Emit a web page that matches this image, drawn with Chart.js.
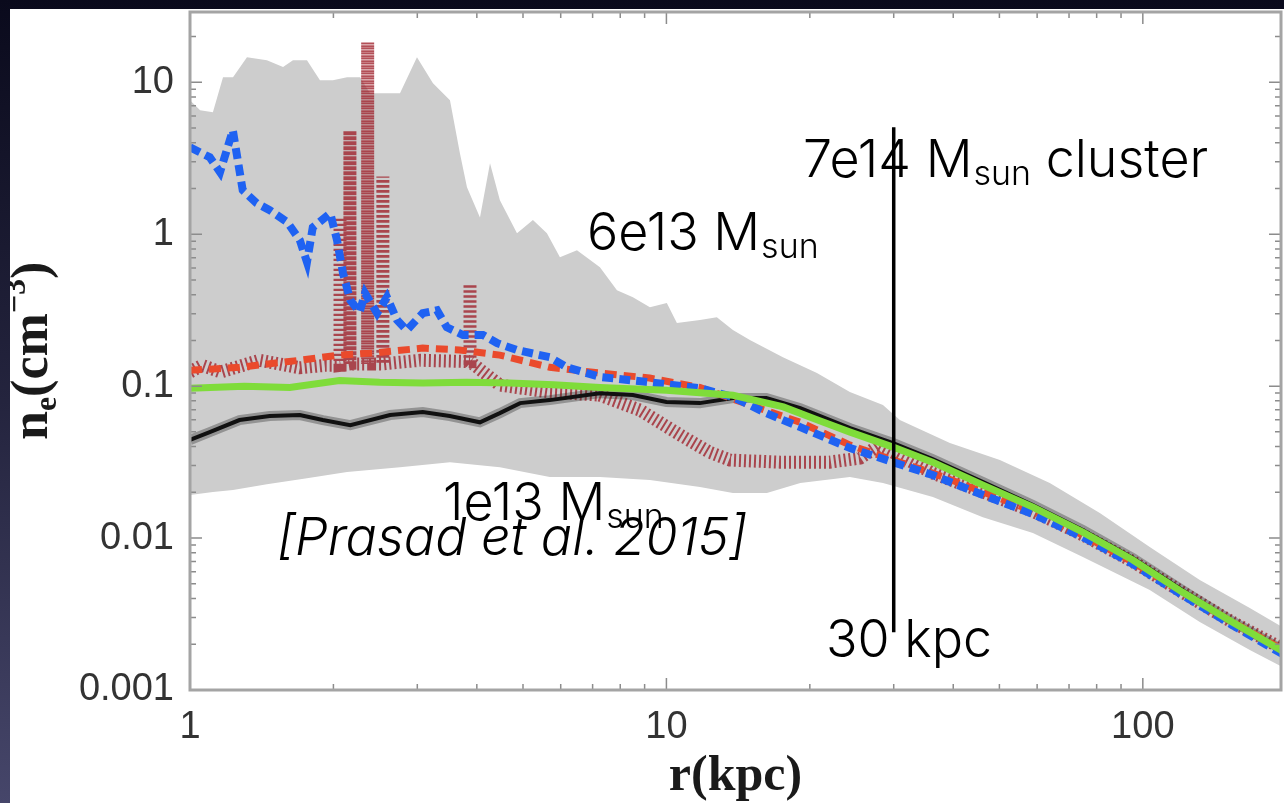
<!DOCTYPE html>
<html>
<head>
<meta charset="utf-8">
<script src="https://cdn.jsdelivr.net/npm/chart.js@4.4.0/dist/chart.umd.min.js"></script>
<style>
    html, body { margin: 0; padding: 0; }
    body {
        width: 1284px;
        height: 803px;
        overflow: hidden;
        background: linear-gradient(to bottom, #0a0a1c 0%, #24243e 50%, #46466a 100%);
    }
    #panel {
        position: absolute;
        left: 10px;
        top: 9px;
        width: 1274px;
        height: 794px;
        background: #ffffff;
    }
</style>
</head>
<body>
<div id="panel"><canvas id="profile-chart"></canvas></div>
<script>
// Axis ticks (log scales)
const xTickVals = [1, 10, 100];
const xTickLabels = ['1', '10', '100'];
const yTickVals = [0.001, 0.01, 0.1, 1, 10];
const yTickLabels = ['0.001', '0.01', '0.1', '1', '10'];
const minorSteps = [2, 3, 4, 5, 6, 7, 8, 9];

// Scatter envelope of all runs (grey band)
const bandHiR = [1.000, 1.05, 1.117, 1.173, 1.231, 1.317, 1.450, 1.568, 1.645, 1.760, 1.874, 1.995, 2.136, 2.275, 2.387,
    2.566, 2.759, 2.995, 3.236, 3.513, 3.686, 3.814, 4.061, 4.263, 4.472, 4.857, 5.246, 5.613, 5.977, 6.490,
    7.252, 7.874, 8.505, 9.234, 10.02, 10.52, 11.76, 12.76, 13.79, 14.97, 17.56, 20.70, 24.27, 28.48, 30.90,
    39.36, 50.11, 63.78, 81.22, 103.4, 131.7, 167.7, 197.7];
const bandHi = [7.62, 6.54, 6.35, 10.8, 10.8, 14.6, 13.96, 12.6, 13.96, 13.96, 10.3, 10.3, 10.8, 10.8, 8.47,
    8.47, 8.47, 14.6, 9.85, 7.62, 3.41, 2.04, 1.29, 2.93, 1.67, 1.016, 1.24, 1.016, 0.706, 0.785,
    0.607, 0.428, 0.385, 0.331, 0.352, 0.260, 0.272, 0.284, 0.234, 0.201, 0.155, 0.122, 0.0914, 0.075, 0.0598,
    0.0422, 0.0326, 0.0230, 0.0146, 0.00873, 0.0053, 0.00346, 0.00256];
const bandLoR = [1.00, 1.117, 1.231, 1.450, 1.760, 2.136, 2.759, 3.513, 4.472, 5.69, 7.25, 9.23, 11.76, 13.79, 16.25,
    19.1, 24.27, 28.48, 36.25, 46.15, 58.78, 74.83, 103.4, 131.7, 167.7, 197.7];
const bandLo = [0.0192, 0.0201, 0.0207, 0.0226, 0.0248, 0.0272, 0.0293, 0.0316, 0.0293, 0.0252, 0.0252, 0.0241, 0.0217, 0.0198, 0.0198,
    0.0230, 0.0252, 0.0230, 0.0186, 0.0137, 0.0108, 0.0075, 0.00455, 0.0028, 0.00183, 0.0014];

// Individual runs
const greenR = [1.00, 1.30, 1.62, 2.06, 2.50, 3.08, 3.80, 4.69, 5.80, 7.25, 10.0, 13.8, 17.6, 20.7, 24.3,
    29.9, 36.2, 46.2, 58.8, 74.8, 95.3, 121, 154, 198];
const greenN = [0.097, 0.100, 0.098, 0.109, 0.106, 0.105, 0.106, 0.105, 0.102, 0.098, 0.094, 0.087, 0.073, 0.060, 0.0498,
    0.0397, 0.0316, 0.0223, 0.0160, 0.01095, 0.00717, 0.00441, 0.0028, 0.00178];

const blueR = [1.00, 1.10, 1.156, 1.23, 1.29, 1.38, 1.47, 1.60, 1.70, 1.76, 1.81, 1.97, 2.035, 2.095, 2.17,
    2.27, 2.33, 2.47, 2.59, 2.72, 2.85, 3.08, 3.30, 3.46, 3.74, 4.12, 4.41, 4.85, 5.69, 6.18,
    7.25, 9.22, 11.75, 13.8, 16.2, 19.1, 24.3, 29.9, 36.2, 46.2, 58.8, 74.8, 95.3, 121, 154, 198];
const blueN = [3.73, 3.21, 2.56, 4.83, 1.95, 1.60, 1.44, 1.20, 0.914, 0.655, 1.11, 1.37, 0.914, 0.553, 0.368,
    0.307, 0.409, 0.302, 0.385, 0.272, 0.233, 0.302, 0.316, 0.244, 0.217, 0.217, 0.192, 0.173, 0.155, 0.133,
    0.115, 0.106, 0.097, 0.0847, 0.0664, 0.0537, 0.0391, 0.0316, 0.0260, 0.0192, 0.0144, 0.01015, 0.00675, 0.00422, 0.00268, 0.0017];

const redR = [1.00, 1.27, 1.70, 2.06, 2.42, 3.08, 3.68, 4.47, 5.69, 7.25, 9.22, 11.75, 15.0, 19.1, 24.3,
    29.9, 36.2, 46.2, 58.8, 74.8, 95.3, 121, 154, 198];
const redN = [0.127, 0.133, 0.148, 0.160, 0.165, 0.178, 0.173, 0.160, 0.133, 0.122, 0.113, 0.098, 0.075, 0.0578, 0.0409,
    0.0326, 0.0268, 0.0201, 0.01505, 0.01046, 0.00695, 0.00435, 0.0028, 0.00183];

const blackR = [1.00, 1.10, 1.27, 1.47, 1.70, 1.90, 2.17, 2.63, 3.08, 3.51, 4.06, 4.47, 4.93, 5.69, 7.25,
    8.50, 10.0, 11.75, 13.8, 16.2, 19.1, 24.3, 29.9, 36.2, 46.2, 58.8, 74.8, 95.3, 121, 154, 198];
const blackN = [0.0442, 0.0498, 0.0598, 0.0635, 0.0645, 0.0598, 0.0553, 0.0645, 0.0675, 0.0635, 0.0578, 0.0664, 0.0773, 0.0809, 0.0899,
    0.0873, 0.0786, 0.0773, 0.0834, 0.0834, 0.0716, 0.0529, 0.0422, 0.0331, 0.0234, 0.0165, 0.0113, 0.00739, 0.00455, 0.00284, 0.00181];

// Dark red run, spikes are drawn as vertical excursions
const darkR = [1.00, 1.06, 1.16, 1.40, 1.70, 1.92, 2.065, 2.065, 2.065, 2.166, 2.166, 2.166, 2.36, 2.36, 2.36,
    2.54, 2.54, 2.54, 3.04, 3.87, 3.87, 3.87, 4.47, 5.69, 7.25, 8.80, 10.7, 12.3, 13.6, 17.3,
    22.0, 25.5, 28.0, 36.2, 46.2, 58.8, 74.8, 95.3, 121, 154, 198];
const darkN = [0.124, 0.137, 0.124, 0.148, 0.132, 0.137, 0.137, 1.29, 0.137, 0.14, 4.8, 0.14, 0.14, 18.3, 0.14,
    0.14, 2.4, 0.14, 0.148, 0.145, 0.47, 0.145, 0.1016, 0.0914, 0.0873, 0.0695, 0.0476, 0.0368, 0.0326, 0.0316,
    0.0316, 0.0336, 0.0409, 0.0268, 0.0201, 0.0150, 0.0105, 0.0070, 0.0044, 0.0028, 0.00185];

// 30 kpc marker
const markerR = [30, 30];
const markerN = [5.06, 0.0024];

const X_MAX = 195;
const Y_MAX = 29;

const toPoints = (xs, ys) => xs.map((x, i) => ({ x, y: ys[i] }));

const TEXT_FONT = '"Inter", "Liberation Sans", sans-serif';

/**
 * Draw "<prefix> M_sun<suffix>" with a subscript
 */
function drawMassLabel(ctx, x, y, prefix, suffix) {
    ctx.font = `300 52px ${TEXT_FONT}`;
    ctx.fillText(prefix + 'M', x, y);
    x += ctx.measureText(prefix + 'M').width + 1;
    ctx.font = `300 34px ${TEXT_FONT}`;
    ctx.fillText('sun', x, y + 8);
    x += ctx.measureText('sun').width;
    if (suffix) {
        ctx.font = `300 52px ${TEXT_FONT}`;
        ctx.fillText(suffix, x, y);
    }
}

const framePlugin = {
    id: 'frame',
    afterDatasetsDraw(chart) {
        const { ctx, chartArea: a, scales } = chart;
        ctx.save();
        ctx.strokeStyle = '#8c8c8c';
        ctx.lineWidth = 1.5;

        // x ticks (bottom and top, inward)
        xTickVals.forEach(dec => {
            [1].concat(minorSteps).forEach(m => {
                const v = dec * m;
                if (v > X_MAX) return;
                const px = scales.x.getPixelForValue(v);
                const len = m === 1 ? 12 : 6;
                ctx.beginPath();
                ctx.moveTo(px, a.bottom); ctx.lineTo(px, a.bottom - len);
                ctx.moveTo(px, a.top); ctx.lineTo(px, a.top + len);
                ctx.stroke();
            });
        });

        // y ticks (left and right, inward)
        yTickVals.forEach(dec => {
            [1].concat(minorSteps).forEach(m => {
                const v = dec * m;
                if (v > Y_MAX) return;
                const py = scales.y.getPixelForValue(v);
                const len = m === 1 ? 12 : 6;
                ctx.beginPath();
                ctx.moveTo(a.left, py); ctx.lineTo(a.left + len, py);
                ctx.moveTo(a.right, py); ctx.lineTo(a.right - len, py);
                ctx.stroke();
            });
        });

        ctx.strokeStyle = '#a4a4a4';
        ctx.lineWidth = 3;
        ctx.strokeRect(a.left, a.top, a.right - a.left, a.bottom - a.top);
        ctx.restore();
    },
    afterDraw(chart) {
        const { ctx, chartArea: a } = chart;
        ctx.save();
        ctx.fillStyle = '#000';
        ctx.textBaseline = 'alphabetic';
        ctx.textAlign = 'left';

        // Slide annotations
        drawMassLabel(ctx, 793, 168, '7e14 ', ' cluster');
        drawMassLabel(ctx, 577, 241, '6e13 ', '');
        drawMassLabel(ctx, 433, 511, '1e13 ', '');

        ctx.font = `italic 300 52px ${TEXT_FONT}`;
        ctx.fillText('[Prasad et al. 2015]', 267, 546);

        ctx.font = `300 52px ${TEXT_FONT}`;
        ctx.fillText('30 kpc', 816, 648);

        // Axis titles
        ctx.fillStyle = '#1a1a1a';
        ctx.font = 'bold 50px "Liberation Serif"';
        ctx.textAlign = 'center';
        ctx.fillText('r(kpc)', (a.left + a.right) / 2, 781);

        ctx.textAlign = 'left';
        ctx.translate(37, 431);
        ctx.rotate(-Math.PI / 2);
        let x = 0;
        ctx.font = 'bold 52px "Liberation Serif"';
        ctx.fillText('n', x, 0);
        x += ctx.measureText('n').width;
        ctx.font = 'bold 32px "Liberation Serif"';
        ctx.fillText('e', x, 9);
        x += ctx.measureText('e').width;
        ctx.font = 'bold 52px "Liberation Serif"';
        ctx.fillText('(cm', x, 0);
        x += ctx.measureText('(cm').width;
        ctx.font = 'bold 32px "Liberation Serif"';
        ctx.fillText('\u22123', x, -22);
        x += ctx.measureText('\u22123').width;
        ctx.font = 'bold 52px "Liberation Serif"';
        ctx.fillText(')', x, 0);
        ctx.restore();
    }
};

const lineStyle = { pointRadius: 0, fill: false, tension: 0 };

new Chart(document.getElementById('profile-chart'), {
    type: 'line',
    data: {
        datasets: [
            { ...lineStyle, label: '30 kpc', data: toPoints(markerR, markerN), borderColor: '#000', borderWidth: 3.5 },
            { ...lineStyle, label: 'green', data: toPoints(greenR, greenN), borderColor: '#7fdc3a', borderWidth: 7 },
            { ...lineStyle, label: 'blue', data: toPoints(blueR, blueN), borderColor: '#1f62f2', borderWidth: 8, borderDash: [11, 6] },
            { ...lineStyle, label: 'red', data: toPoints(redR, redN), borderColor: '#ea4a2c', borderWidth: 7, borderDash: [12, 7] },
            { ...lineStyle, label: 'black', data: toPoints(blackR, blackN), borderColor: '#111', borderWidth: 4 },
            { ...lineStyle, label: 'black scatter', data: toPoints(blackR, blackN), borderColor: 'rgba(40,40,40,0.35)', borderWidth: 10 },
            { ...lineStyle, label: 'dark red', data: toPoints(darkR, darkN), borderColor: 'rgba(160,35,45,0.8)', borderWidth: 13, borderDash: [2, 3] },
            { ...lineStyle, label: 'band max', data: toPoints(bandHiR, bandHi), borderWidth: 0, borderColor: '#cdcdcd', fill: '+1', backgroundColor: '#cdcdcd' },
            { ...lineStyle, label: 'band min', data: toPoints(bandLoR, bandLo), borderWidth: 0, borderColor: '#cdcdcd' }
        ]
    },
    options: {
        responsive: true,
        maintainAspectRatio: false,
        animation: false,
        devicePixelRatio: 1,
        layout: { padding: { top: 3, right: 3, left: 0, bottom: 0 } },
        plugins: {
            legend: { display: false },
            tooltip: { enabled: false }
        },
        scales: {
            x: {
                type: 'logarithmic',
                min: 1,
                max: X_MAX,
                afterBuildTicks: s => { s.ticks = xTickVals.map(v => ({ value: v })); },
                afterFit: s => {
                    s.height = 113;
                    s.paddingLeft = 0;
                    s.paddingRight = 0;
                },
                grid: { display: false, drawTicks: false },
                border: { display: false },
                ticks: {
                    autoSkip: false,
                    maxRotation: 0,
                    padding: 15,
                    color: '#333',
                    font: { family: 'Liberation Sans', size: 38 },
                    callback: (v, i) => xTickLabels[i]
                }
            },
            y: {
                type: 'logarithmic',
                min: 0.001,
                max: Y_MAX,
                afterBuildTicks: s => { s.ticks = yTickVals.map(v => ({ value: v })); },
                afterFit: s => {
                    s.width = 180;
                    s.paddingTop = 0;
                    s.paddingBottom = 0;
                },
                grid: { display: false, drawTicks: false },
                border: { display: false },
                ticks: {
                    autoSkip: false,
                    padding: 16,
                    color: '#333',
                    font: { family: 'Liberation Sans', size: 38 },
                    callback: (v, i) => yTickLabels[i]
                }
            }
        }
    },
    plugins: [framePlugin]
});
</script>
</body>
</html>
